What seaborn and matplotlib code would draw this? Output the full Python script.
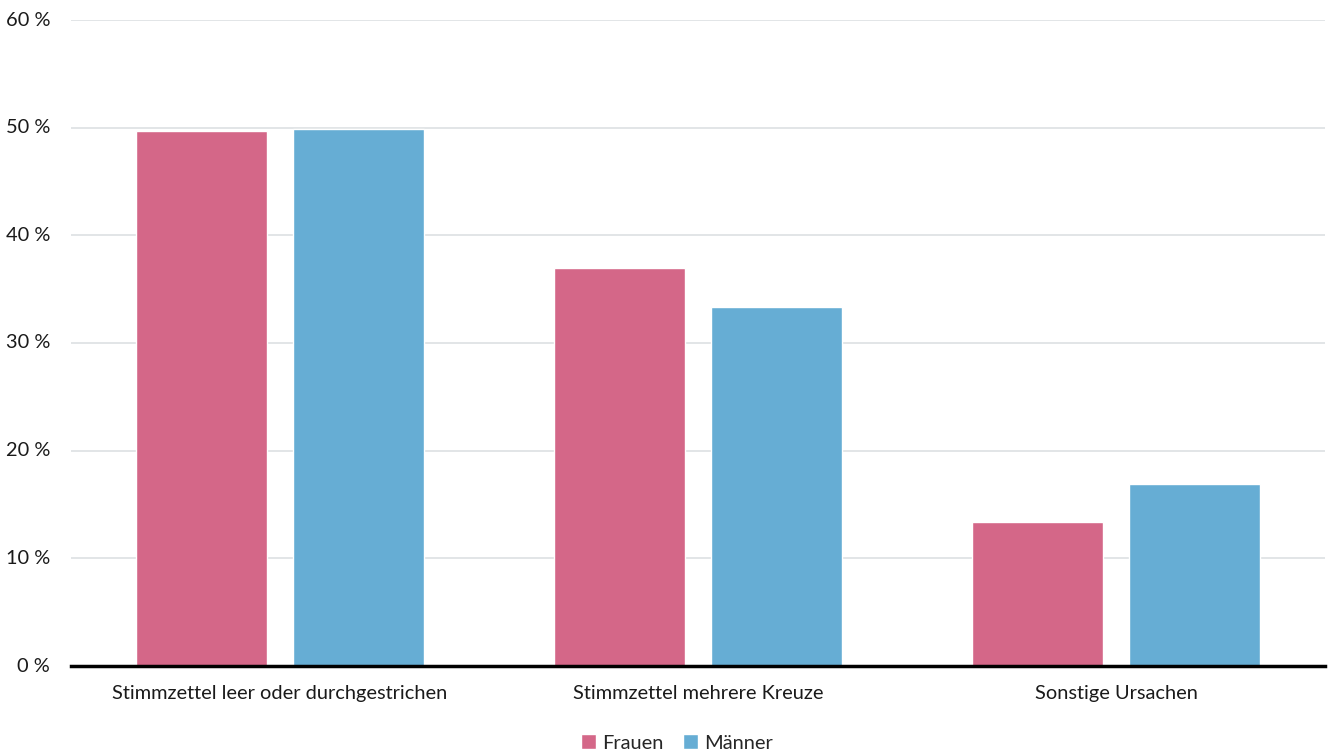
import matplotlib
matplotlib.use("Agg")
import matplotlib.pyplot as plt
import seaborn as sns
import pandas as pd

categories = ["Stimmzettel leer oder durchgestrichen", "Stimmzettel mehrere Kreuze", "Sonstige Ursachen"]
frauen = [49.7, 37.0, 13.4]
maenner = [49.9, 33.3, 16.9]
series = ["Frauen", "Männer"]
colors = ["#D46788", "#66ADD4"]
yticks = [0, 10, 20, 30, 40, 50, 60]

df = pd.DataFrame({
    "cat": categories * 2,
    "val": frauen + maenner,
    "ser": [series[0]] * 3 + [series[1]] * 3,
})

sns.set_style("white")
plt.rcParams["font.family"] = ["Lato", "DejaVu Sans"]

fig = plt.figure(figsize=(13.29, 7.56), dpi=100)
ax = fig.add_axes([71/1329, 1 - 666/756, 1254/1329, 646/756])
sns.barplot(data=df, x="cat", y="val", hue="ser", palette=colors, width=0.75, gap=0.165,
            ax=ax, saturation=1, legend=True)
ax.set_ylim(0, 60)
ax.set_xlim(-0.5, 2.5)
ax.set_yticks(yticks)
ax.set_yticklabels([f"{v} %" for v in yticks])
ax.grid(axis="y", color="#dde0e3", linewidth=1.2)
ax.set_axisbelow(True)
for s in ["left", "right", "top"]:
    ax.spines[s].set_visible(False)
ax.spines["bottom"].set_color("black")
ax.spines["bottom"].set_linewidth(2.5)
ax.set_xlabel("")
ax.set_ylabel("")
ax.tick_params(axis="both", length=0, labelsize=14.4, colors="#1a1a1a")
ax.tick_params(axis="x", pad=14)
ax.tick_params(axis="y", pad=15)
for lab in ax.get_yticklabels():
    lab.set_verticalalignment("center")

h, l = ax.get_legend_handles_labels()
ax.get_legend().remove()
fig.legend(h, l, loc="center", bbox_to_anchor=(677/1329, 1 - 743/756), ncol=2, frameon=False,
           fontsize=14.4, handlelength=0.75, handleheight=0.75, handletextpad=0.3, columnspacing=1.0)

fig.savefig("out.png", dpi=100)
